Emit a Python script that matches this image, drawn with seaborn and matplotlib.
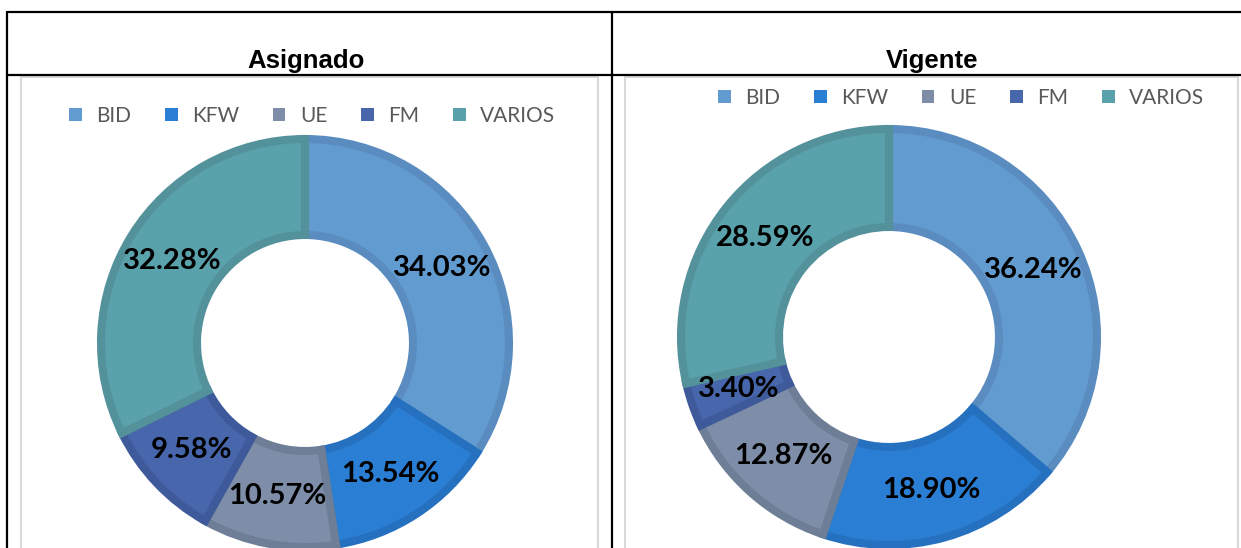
import numpy as np
import matplotlib
matplotlib.use("Agg")
import matplotlib.pyplot as plt
import seaborn as sns
from matplotlib.patches import Rectangle, Patch
from matplotlib.lines import Line2D

sources = ["BID", "KFW", "UE", "FM", "VARIOS"]
asignado = [34.03, 13.54, 10.57, 9.58, 32.28]
vigente = [36.24, 18.90, 12.87, 3.40, 28.59]
titles = ["Asignado", "Vigente"]

fill_colors = sns.color_palette(["#629bd0", "#2a7fd4", "#7f8ea8", "#4766ac", "#5aa2ab"])
edge_colors = sns.color_palette(["#5a8cbf", "#2670c0", "#6e7e96", "#3f5a9a", "#54929b"])

sns.set_theme(style="white")
plt.rcParams["font.family"] = ["Lato", "DejaVu Sans"]

W, H = 1241, 548
fig = plt.figure(figsize=(W / 100, H / 100), dpi=100)


def fx(px):
    return px / W


def fy(py):
    return 1 - py / H


# table lines
for (x0, y0, x1, y1) in [(7, 12, W, 12), (7, 74.5, W, 74.5), (7, 12, 7, H), (611.5, 12, 611.5, H)]:
    fig.add_artist(Line2D([fx(x0), fx(x1)], [fy(y0), fy(y1)], color="black", lw=1.6))

# light chart frames
for (x0, x1) in [(20.5, 598), (625, 1238)]:
    fig.add_artist(Rectangle((fx(x0), fy(H + 5)), fx(x1) - fx(x0), fy(77) - fy(H + 5),
                             fill=False, edgecolor="#d9d9d9", lw=1.5))

# header text
for t, cx in zip(titles, [306, 932]):
    fig.text(fx(cx), fy(68), t, ha="center", va="baseline", fontsize=18.5,
             fontweight="bold", family=["Liberation Sans", "DejaVu Sans"], color="black")

panels = [
    (asignado, 305, 343, 208, 312, 116),
    (vigente, 889, 337, 212, 961, 98),
]

for values, cx, cy, R, lx, ly in panels:
    ax = fig.add_axes([fx(cx - R), fy(cy + R), 2 * R / W, 2 * R / H])
    half = 4.0 / R
    wedges, _ = ax.pie(values, colors=fill_colors, startangle=90, counterclock=False,
                       radius=1 - half, wedgeprops=dict(width=0.5 - 2 * half, linewidth=5.8))
    for w, ec in zip(wedges, edge_colors):
        w.set_edgecolor(ec)
    ax.set_xlim(-1, 1)
    ax.set_ylim(-1, 1)
    ax.set_axis_off()
    total = sum(values)
    start = 90.0
    for v in values:
        mid = np.deg2rad(start - v / total * 180)
        start -= v / total * 360
        ax.text(0.75 * np.cos(mid), 0.75 * np.sin(mid), f"{v:.2f}%", ha="center", va="center",
                fontsize=21, fontweight="bold", color="black")
    handles = [Patch(facecolor=c, edgecolor="none") for c in fill_colors]
    fig.legend(handles, sources, loc="center", bbox_to_anchor=(fx(lx), fy(ly)), ncol=5,
               frameon=False, fontsize=15, handlelength=0.62, handleheight=0.62,
               handletextpad=0.7, columnspacing=1.6, labelcolor="#595959")

fig.savefig("out.png", dpi=100)
